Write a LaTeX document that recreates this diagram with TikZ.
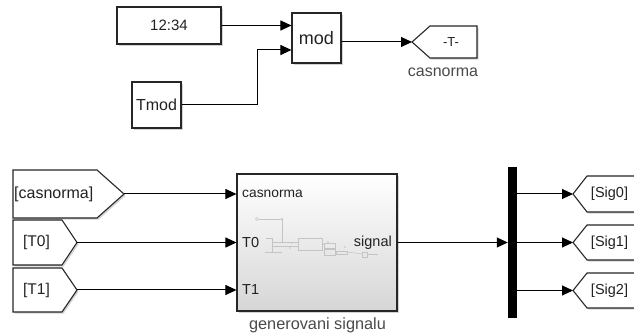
\documentclass[tikz,border=0pt]{standalone}
\usepackage{fontspec}
\setmainfont{Liberation Sans}
\usetikzlibrary{shadows,arrows.meta}
\definecolor{edgec}{HTML}{262626}
\definecolor{txtc}{HTML}{222222}
\definecolor{lblc}{HTML}{4a4a4a}
\definecolor{thumb}{HTML}{c4c4c4}
\newcommand{\fsz}[1]{\fontsize{#1}{#1}\selectfont}
\tikzset{
  shade/.style={drop shadow={shadow xshift=1.6pt,shadow yshift=-1.6pt,opacity=0.35}},
  blk/.style={draw=edgec, line width=1.1pt, fill=white, inner sep=0pt, shade, text=txtc},
  tagline/.style={draw=edgec, line width=1.1pt, fill=white, shade},
  wire/.style={draw=black, line width=1pt, -{Triangle[length=11pt,width=10pt]}},
  plainwire/.style={draw=black, line width=1pt},
  tagtxt/.style={inner sep=0pt, text=txtc},
  caption/.style={inner sep=0pt, text=lblc},
  mini/.style={draw=thumb, line width=0.5pt},
}
\begin{document}
\begin{tikzpicture}[x=1pt,y=-1pt]
\clip (0,0) rectangle (634,336);

% ---------- upper part: time of day modulo Tmod ----------
\node[blk, minimum width=104, minimum height=37, font=\fsz{15}] (clk) at (169,25.5) {12:34};
\node[blk, minimum width=49, minimum height=50, font=\fsz{18}] (mod) at (316.5,38) {mod};
\node[blk, minimum width=49, minimum height=46, font=\fsz{16}] (tmod) at (156.5,105) {Tmod};

% goto tag -T-
\draw[tagline] (412,42) -- (430,26) -- (477,26) -- (477,58) -- (430,58) -- cycle;
\coordinate (gT-tip) at (412,42);
\node[tagtxt, font=\fsz{13}] (gT) at (451,42) {-T-};
\node[caption, font=\fsz{16}] (gTlbl) at (443,72) {casnorma};

\draw[wire] (clk.east) -- (mod.west |- clk.east);
\draw[wire] (tmod.east) -- (257,105) -- (257,50) -- (mod.west |- 0,50);
\draw[wire] (mod.east |- gT-tip) -- (gT-tip);

% ---------- lower part: from tags ----------
\draw[tagline] (13,170) -- (97,170) -- (124,194) -- (97,218) -- (13,218) -- cycle;
\coordinate (fcas-tip) at (124,194);
\node[tagtxt, font=\fsz{16}, anchor=west] (fcas) at (14,194) {[casnorma]};

\draw[tagline] (13,220) -- (62,220) -- (77,242.5) -- (62,265) -- (13,265) -- cycle;
\coordinate (fT0-tip) at (77,242.5);
\node[tagtxt, font=\fsz{15.5}] (fT0) at (36.5,242.5) {[T0]};

\draw[tagline] (13,268) -- (62,268) -- (77,290) -- (62,312) -- (13,312) -- cycle;
\coordinate (fT1-tip) at (77,290);
\node[tagtxt, font=\fsz{15.5}] (fT1) at (36.5,290) {[T1]};

% ---------- subsystem ----------
\node[draw=edgec, line width=1.1pt, inner sep=0pt, shade,
      top color=white, middle color=black!2, bottom color=black!16,
      minimum width=160, minimum height=137] (sub) at (317,242.5) {};
% faint thumbnail of the inner model
\draw[mini] (257,219) circle (1.6);
\draw[mini] (258.6,219) -- (282,219) -- (282,242);
\draw[mini] (266,238) -- (272,238) -- (272,252) -- (266,252);
\draw[mini] (272,242) -- (298,242);
\draw[mini] (272,246) -- (298,246);
\draw[mini] (282,252) -- (265,252);
\draw[mini] (298,238) rectangle (322,250);
\draw[mini] (322,244) -- (324,244);
\draw[mini] (324,243) rectangle (335,248);
\draw[mini] (324,249) rectangle (335,255);
\draw[mini] (336,251) rectangle (347,254);
\draw[mini] (347,252) -- (362,254);
\draw[mini] (362,252) rectangle (367,257);
\draw[mini] (367,254.5) -- (378,254.5);
\fill[thumb] (282,219) circle (1);
\fill[thumb] (292,243) circle (0.9);
\fill[thumb] (290,248) circle (0.9);
\fill[thumb] (328,242) circle (0.9);
\fill[thumb] (345,247) circle (0.9);

\node[tagtxt, font=\fsz{13.8}, anchor=west] (pcas) at (242,194) {casnorma};
\node[tagtxt, font=\fsz{14.5}, anchor=west] (pT0) at (242,242.5) {T0};
\node[tagtxt, font=\fsz{14.5}, anchor=west] (pT1) at (242,290) {T1};
\node[tagtxt, font=\fsz{14.5}, anchor=east] (psig) at (392,242.5) {signal};
\node[caption, font=\fsz{16.3}] (sublbl) at (317.5,325) {generovani signalu};

\draw[wire] (fcas-tip) -- (sub.west |- fcas-tip);
\draw[wire] (fT0-tip) -- (sub.west |- fT0-tip);
\draw[wire] (fT1-tip) -- (sub.west |- fT1-tip);

% ---------- bus selector bar ----------
\node[fill=black, inner sep=0pt, minimum width=9, minimum height=151] (bus) at (512.5,242.5) {};
\draw[wire] (sub.east |- 0,242.5) -- (bus.west |- 0,242.5);

% ---------- goto tags for the signals ----------
\draw[tagline] (573,194) -- (587,176) -- (645,176) -- (645,212) -- (587,212) -- cycle;
\coordinate (g0-tip) at (573,194);
\node[tagtxt, font=\fsz{14.5}] (g0) at (609.5,194) {[Sig0]};

\draw[tagline] (573,242.5) -- (587,225) -- (645,225) -- (645,260) -- (587,260) -- cycle;
\coordinate (g1-tip) at (573,242.5);
\node[tagtxt, font=\fsz{14.5}] (g1) at (609.5,242.5) {[Sig1]};

\draw[tagline] (573,290.5) -- (587,273) -- (645,273) -- (645,308) -- (587,308) -- cycle;
\coordinate (g2-tip) at (573,290.5);
\node[tagtxt, font=\fsz{14.5}] (g2) at (609.5,290.5) {[Sig2]};

\draw[wire] (bus.east |- g0-tip) -- (g0-tip);
\draw[wire] (bus.east |- g1-tip) -- (g1-tip);
\draw[wire] (bus.east |- g2-tip) -- (g2-tip);
\end{tikzpicture}
\end{document}
